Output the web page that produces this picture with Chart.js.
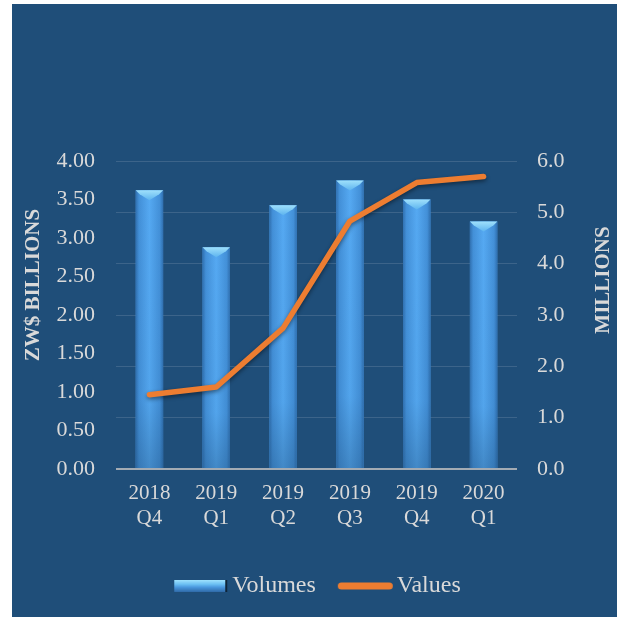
<!DOCTYPE html>
<html>
<head>
<meta charset="utf-8">
<script src="https://cdn.jsdelivr.net/npm/chart.js@4.4.1/dist/chart.umd.min.js"></script>
<style>
  html, body { margin: 0; padding: 0; background: #ffffff; }
  #painel { position: absolute; left: 12px; top: 4px; width: 605px; height: 613px; background: #1f4e79; }
</style>
</head>
<body>
<div id="painel"><canvas id="grafico" width="605" height="613"></canvas></div>
<script>
// trimestres e series
const trimestres = [['2018', 'Q4'], ['2019', 'Q1'], ['2019', 'Q2'], ['2019', 'Q3'], ['2019', 'Q4'], ['2020', 'Q1']];
const volumes = [5.43, 4.32, 5.14, 5.62, 5.25, 4.82];      // milhoes
const valores = [0.965, 1.065, 1.83, 3.22, 3.72, 3.80];    // ZW$ bilioes
const ticksBilioes = [0, 0.5, 1, 1.5, 2, 2.5, 3, 3.5, 4];
const ticksMilhoes = [0, 1, 2, 3, 4, 5, 6];

const corTexto = '#d9d9d9';
const fonte = '"Liberation Serif", "Times New Roman", serif';

// icones da legenda (canvas mais largo que a caixa, pra encostar no texto)
function iconeBarra() {
  const c = document.createElement('canvas');
  c.width = 78; c.height = 12;
  const g = c.getContext('2d');
  const grad = g.createLinearGradient(0, 0, 0, 12);
  grad.addColorStop(0, '#9fe2fd');
  grad.addColorStop(0.35, '#6cc0f4');
  grad.addColorStop(0.6, '#4a98de');
  grad.addColorStop(1, '#2f6aa8');
  g.fillStyle = grad;
  g.fillRect(19, 0, 51, 12);
  g.fillStyle = '#0e2438';
  g.fillRect(70, 0, 2, 12);
  return c;
}
function iconeLinha() {
  const c = document.createElement('canvas');
  c.width = 78; c.height = 12;
  const g = c.getContext('2d');
  g.strokeStyle = '#ed7d31';
  g.lineWidth = 7;
  g.lineCap = 'round';
  g.beginPath(); g.moveTo(21.5, 6); g.lineTo(69.5, 6); g.stroke();
  return c;
}
const icones = { Volumes: iconeBarra(), Values: iconeLinha() };

// barras com gradiente e chanfro no topo
const barrasChanfradas = {
  id: 'barrasChanfradas',
  afterDatasetDraw(chart, args) {
    if (args.meta.type !== 'bar') return;
    const c = chart.ctx;
    c.save();
    args.meta.data.forEach(b => {
      const esq = b.x - b.width / 2, dir = b.x + b.width / 2;
      const topo = b.y, base = b.base;
      const gh = c.createLinearGradient(esq, 0, dir, 0);
      gh.addColorStop(0, '#3070b0');
      gh.addColorStop(0.12, '#4390d8');
      gh.addColorStop(0.5, '#55a9f2');
      gh.addColorStop(0.88, '#4390d8');
      gh.addColorStop(1, '#3070b0');
      c.fillStyle = gh;
      c.fillRect(esq, topo, b.width, base - topo);
      const gv = c.createLinearGradient(0, topo, 0, base);
      gv.addColorStop(0, 'rgba(31,78,121,0)');
      gv.addColorStop(0.75, 'rgba(31,78,121,0.05)');
      gv.addColorStop(1, 'rgba(31,78,121,0.35)');
      c.fillStyle = gv;
      c.fillRect(esq, topo, b.width, base - topo);
      // chanfro
      const gc = c.createLinearGradient(0, topo, 0, topo + 10);
      gc.addColorStop(0, '#9fe0fb');
      gc.addColorStop(1, '#5db4ef');
      c.fillStyle = gc;
      c.beginPath();
      c.moveTo(esq, topo);
      c.lineTo(dir, topo);
      c.lineTo(dir - 4, topo + 4);
      c.lineTo(b.x, topo + 10);
      c.lineTo(esq + 4, topo + 4);
      c.closePath();
      c.fill();
    });
    c.restore();
  },
  beforeDatasetDraw(chart, args) {
    if (args.meta.type !== 'line') return;
    const c = chart.ctx;
    c.save();
    c.shadowColor = 'rgba(0,0,0,0.45)';
    c.shadowBlur = 4;
    c.shadowOffsetY = 2;
  }
};
const sombraLinha = {
  id: 'sombraLinha',
  afterDatasetDraw(chart, args) {
    if (args.meta.type === 'line') chart.ctx.restore();
  }
};

// titulos dos eixos
const titulosEixos = {
  id: 'titulosEixos',
  afterDraw(chart) {
    const c = chart.ctx;
    c.save();
    c.fillStyle = corTexto;
    c.font = 'bold 21px ' + fonte;
    c.textAlign = 'center';
    c.textBaseline = 'middle';
    [[22, 281, 'ZW$ BILLIONS'], [592, 276, 'MILLIONS']].forEach(([x, y, t]) => {
      c.save();
      c.translate(x, y);
      c.rotate(-Math.PI / 2);
      c.fillText(t, 0, 0);
      c.restore();
    });
    c.restore();
  }
};

new Chart(document.getElementById('grafico'), {
  data: {
    labels: trimestres,
    datasets: [
      {
        type: 'bar',
        label: 'Volumes',
        data: volumes,
        yAxisID: 'y1',
        order: 1,
        backgroundColor: '#4a9be6',
        barPercentage: 0.41,
        categoryPercentage: 1
      },
      {
        type: 'line',
        label: 'Values',
        data: valores,
        yAxisID: 'y',
        order: 0,
        borderColor: '#ed7d31',
        backgroundColor: '#ed7d31',
        borderWidth: 5.5,
        borderCapStyle: 'round',
        borderJoinStyle: 'round',
        pointRadius: 0,
        tension: 0
      }
    ]
  },
  options: {
    responsive: false,
    animation: false,
    devicePixelRatio: 1,
    layout: { padding: { top: 157, bottom: 9, left: 0, right: 0 } },
    scales: {
      x: {
        grid: { display: false, drawTicks: false },
        border: { display: false },
        ticks: { color: corTexto, font: { family: fonte, size: 21 }, padding: 12, maxRotation: 0 },
        afterFit: s => { s.height = 88; }
      },
      y: {
        position: 'left',
        min: 0, max: 4,
        grid: { display: false, drawTicks: false },
        border: { display: false },
        afterBuildTicks: s => { s.ticks = ticksBilioes.map(v => ({ value: v })); },
        ticks: { color: corTexto, font: { family: fonte, size: 22 }, padding: 21, callback: v => v.toFixed(2) },
        afterFit: s => { s.width = 104; }
      },
      y1: {
        position: 'right',
        min: 0, max: 6,
        grid: {
          drawTicks: false,
          color: c => c.tick && c.tick.value === 0 ? '#a3abb3' : 'rgba(255,255,255,0.13)',
          lineWidth: c => c.tick && c.tick.value === 0 ? 2 : 1
        },
        border: { display: false },
        afterBuildTicks: s => { s.ticks = ticksMilhoes.map(v => ({ value: v })); },
        ticks: { color: corTexto, font: { family: fonte, size: 22 }, padding: 20, callback: v => v.toFixed(1) },
        afterFit: s => { s.width = 100; }
      }
    },
    plugins: {
      tooltip: { enabled: false },
      legend: {
        position: 'bottom',
        labels: {
          usePointStyle: true,
          pointStyleWidth: 52,
          padding: 17,
          color: corTexto,
          font: { family: fonte, size: 24 },
          generateLabels: () => ['Volumes', 'Values'].map((t, i) => ({
            text: t,
            pointStyle: icones[t],
            fontColor: corTexto,
            fillStyle: 'transparent',
            strokeStyle: 'transparent',
            lineWidth: 0,
            hidden: false,
            datasetIndex: i
          }))
        }
      }
    }
  },
  plugins: [barrasChanfradas, sombraLinha, titulosEixos]
});
</script>
</body>
</html>
